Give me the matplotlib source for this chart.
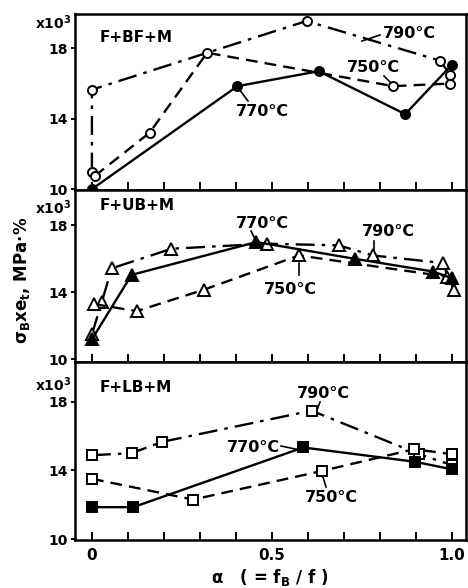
import matplotlib
matplotlib.use("Agg")
import matplotlib.pyplot as plt
import numpy as np

# ---------------- data ----------------
# Panel 1: F+BF+M (circles)
bf_750_x = [0.008, 0.16, 0.32, 0.837, 0.995]
bf_750_y = [10.75, 13.2, 17.75, 15.85, 16.0]
bf_770_x = [0.0, 0.404, 0.63, 0.87, 0.999]
bf_770_y = [10.0, 15.85, 16.7, 14.26, 17.05]
bf_790_x = [0.0, 0.0, 0.596, 0.967, 0.995]
bf_790_y = [11.0, 15.65, 19.55, 17.3, 16.5]

# Panel 2: F+UB+M (triangles)
ub_750_x = [0.006, 0.124, 0.31, 0.575, 0.985]
ub_750_y = [13.3, 12.88, 14.15, 16.2, 14.94]
ub_770_x = [0.0, 0.11, 0.457, 0.73, 0.948, 1.0]
ub_770_y = [11.2, 15.04, 17.0, 16.0, 15.24, 14.84]
ub_790_x = [0.0, 0.027, 0.055, 0.221, 0.485, 0.686, 0.78, 0.974, 1.005]
ub_790_y = [11.5, 13.4, 15.43, 16.6, 16.9, 16.8, 16.2, 15.75, 14.15]

# Panel 3: F+LB+M (squares)
lb_750_x = [0.0, 0.281, 0.638, 0.895, 1.0]
lb_750_y = [13.51, 12.3, 13.96, 15.23, 14.94]
lb_770_x = [0.0, 0.115, 0.587, 0.897, 1.0]
lb_770_y = [11.86, 11.86, 15.33, 14.5, 14.06]
lb_790_x = [0.0, 0.11, 0.196, 0.61, 0.909, 1.0]
lb_790_y = [14.88, 15.0, 15.66, 17.47, 14.94, 14.3]

panel_names = ["F+BF+M", "F+UB+M", "F+LB+M"]
temp_labels = ["750°C", "770°C", "790°C"]
y_ticks = [10, 14, 18]
x_ticks = [0.0, 0.1, 0.2, 0.3, 0.4, 0.5, 0.6, 0.7, 0.8, 0.9, 1.0]
x_ticklabels = ["0", "", "", "", "", "0.5", "", "", "", "", "1.0"]

# ---------------- figure ----------------
W, H = 468, 588
fig = plt.figure(figsize=(W / 100, H / 100), dpi=100)
FONT = dict(family="DejaVu Sans", weight="bold")

L, R = 75, 466
panels_px = [(14, 190), (190, 362), (362, 540)]
ylims = [(9.95, 19.95), (9.85, 20.1), (9.95, 20.3)]

axes = []
for (top, bot) in panels_px:
    ax = fig.add_axes([L / W, 1 - bot / H, (R - L) / W, (bot - top) / H])
    axes.append(ax)

def style(ax, ylim, show_x):
    ax.set_xlim(-0.047, 1.039)
    ax.set_ylim(*ylim)
    for s in ax.spines.values():
        s.set_linewidth(1.8)
    ax.set_xticks(x_ticks)
    ax.set_xticklabels(x_ticklabels if show_x else [""] * len(x_ticks))
    ax.set_yticks(y_ticks)
    ax.set_yticklabels([str(v) for v in y_ticks])
    ax.tick_params(axis="x", direction="in", length=6, width=1.4, top=False,
                   labelsize=11, pad=6)
    ax.tick_params(axis="y", direction="out", length=3, width=1.4, right=False,
                   labelsize=10, pad=2)
    for lab in ax.get_xticklabels() + ax.get_yticklabels():
        lab.set_fontweight("bold")
        lab.set_family("DejaVu Sans")

def series(ax, x, y, ls, marker, filled, ms):
    ax.plot(x, y, linestyle=ls, color="black", linewidth=1.7,
            marker=marker, markersize=ms, markeredgewidth=1.4,
            markeredgecolor="black",
            markerfacecolor="black" if filled else "white",
            zorder=3, clip_on=False)

DASH = (0, (5, 3))
DASHDOT = (0, (8, 3, 1.5, 3))

data = [
    ((bf_750_x, bf_750_y), (bf_770_x, bf_770_y), (bf_790_x, bf_790_y), "o", 6.5),
    ((ub_750_x, ub_750_y), (ub_770_x, ub_770_y), (ub_790_x, ub_790_y), "^", 8),
    ((lb_750_x, lb_750_y), (lb_770_x, lb_770_y), (lb_790_x, lb_790_y), "s", 6.5),
]

for i, ax in enumerate(axes):
    (x5, y5), (x7, y7), (x9, y9), mk, ms = data[i]
    series(ax, x9, y9, DASHDOT, mk, False, ms)
    series(ax, x5, y5, DASH, mk, False, ms)
    series(ax, x7, y7, "-", mk, True, ms)
    style(ax, ylims[i], i == 2)

# ---------------- annotations (pixel layout -> axes fraction) ----------------
def af(i, px, py):
    top, bot = panels_px[i]
    return ((px - L) / (R - L), (bot - py) / (bot - top))

def label(i, text, center, lead_from, lead_to, size=11.5):
    ax = axes[i]
    ax.text(*af(i, *center), text, transform=ax.transAxes, ha="center",
            va="center", fontsize=size, **FONT)
    if lead_from is not None:
        (x0, y0), (x1, y1) = af(i, *lead_from), af(i, *lead_to)
        ax.plot([x0, x1], [y0, y1], transform=ax.transAxes, color="black",
                linewidth=1.2, clip_on=False)

# panel names
for i, ypx in enumerate([37, 205, 388]):
    axes[i].text(*af(i, 100, ypx), panel_names[i], transform=axes[i].transAxes,
                 ha="left", va="center", fontsize=11, **FONT)

# x10^3 multipliers
for i, ypx in enumerate([23, 208, 385]):
    axes[i].text(*af(i, 71, ypx), r"x10$^{\mathbf{3}}$", transform=axes[i].transAxes,
                 ha="right", va="center", fontsize=10, **FONT)

# panel 1
label(0, temp_labels[2], (409, 33), (380, 35), (362, 41))
label(0, temp_labels[0], (373, 68), (384, 76), (392, 84))
label(0, temp_labels[1], (262, 112), (248, 101), (239, 89))
# panel 2
label(1, temp_labels[1], (262, 223), (251, 231), (256, 241))
label(1, temp_labels[2], (388, 232), (374, 241), (374, 252))
label(1, temp_labels[0], (290, 290), (299, 263), (299, 275))
# panel 3
label(2, temp_labels[2], (323, 393), (320, 402), (317, 410))
label(2, temp_labels[1], (253, 448), (281, 446), (300, 450))
label(2, temp_labels[0], (331, 497), (323, 477), (326, 487))

# axis labels
fig.text(22 / W, 1 - 280 / H, r"$\mathbf{\sigma_B x e_t}$, MPa·%", rotation=90,
         ha="center", va="center", fontsize=12, **FONT)
fig.text(270 / W, 1 - 578 / H, r"$\mathbf{\alpha}$   ( = f$_\mathbf{B}$ / f )",
         ha="center", va="center", fontsize=12, **FONT)

fig.savefig("out.png", dpi=100)
